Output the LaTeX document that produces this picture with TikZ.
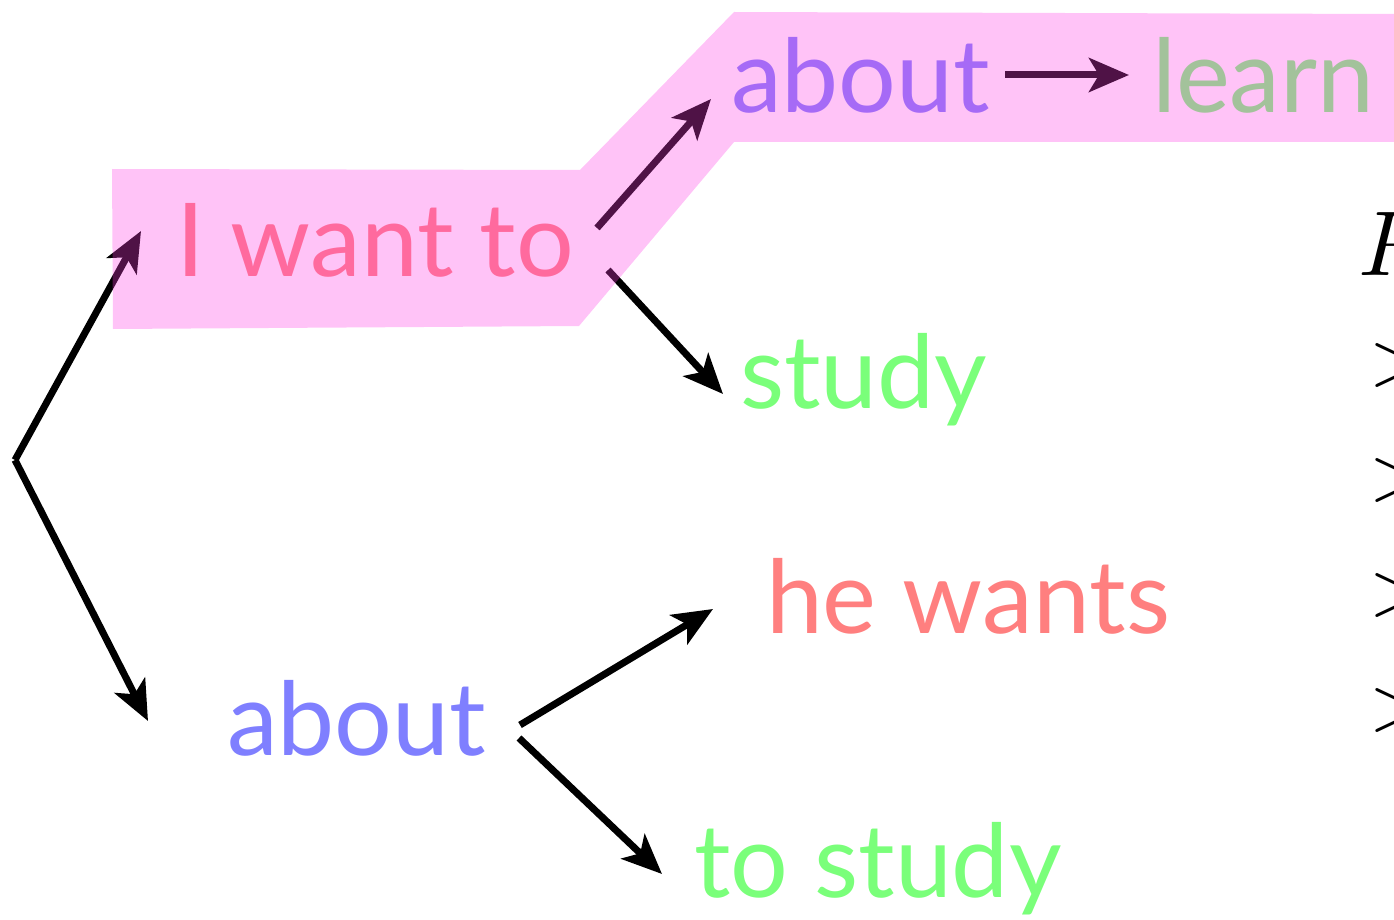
\documentclass[tikz,border=0pt]{standalone}
\usepackage{graphicx}
\usepackage{fontspec}
\setmainfont{Lato}
\usetikzlibrary{arrows.meta}
\definecolor{txtred}{RGB}{255,127,127}
\definecolor{txtblue}{RGB}{127,127,255}
\definecolor{txtgreen}{RGB}{122,255,122}
\definecolor{hilite}{RGB}{255,61,229}
\tikzset{
  word/.style={anchor=base west,inner sep=0pt,outer sep=0pt,font=\fontsize{102}{110}\selectfont},
  conn/.style={line width=7pt,-{Stealth[length=40pt,width=34pt,inset=10pt]}},
  mathsym/.style={inner sep=0pt,outer sep=0pt}
}
\begin{document}
\begin{tikzpicture}[x=1pt,y=-1pt]
\useasboundingbox (0,0) rectangle (1394,920);
% words
\node[word,text=txtred]   (iwant)  at (176,276) {I want to};
\node[word,text=txtblue]  (abtop)  at (731,113) {about};
\node[word,text=txtgreen] (learn)  at (1152,113) {learn};
\node[word,text=txtgreen] (study)  at (740,408) {study};
\node[word,text=txtred]   (hewants) at (766,633) {he wants};
\node[word,text=txtblue]  (abbot)  at (227,755) {about};
\node[word,text=txtgreen] (tostudy) at (694,897) {to study};
% math on right edge (cut off, as in the reference)
\node[mathsym,anchor=base west] (pm) at (1358,275) {\scalebox{9.2}{$P$}};
\node[mathsym,anchor=west] (g1) at (1369,365) {\scalebox{7.6}{$>$}};
\node[mathsym,anchor=west] (g2) at (1369,480) {\scalebox{7.6}{$>$}};
\node[mathsym,anchor=west] (g3) at (1369,595) {\scalebox{7.6}{$>$}};
\node[mathsym,anchor=west] (g4) at (1369,710) {\scalebox{7.6}{$>$}};
% connector ends
\coordinate (root) at (15,460);
\coordinate (iwin) at (141,231);
\coordinate (abbin) at (148,721);
\coordinate (iwout1) at (597,228);
\coordinate (abtin) at (711,99);
\coordinate (iwout2) at (608,270);
\coordinate (stin) at (723,394);
\coordinate (abtout) at (1005,75);
\coordinate (lein) at (1129,75);
\coordinate (abbout1) at (520,725);
\coordinate (hwin) at (713,609);
\coordinate (abbout2) at (519,738);
\coordinate (tsin) at (662,874);
% connectors
\draw[conn,line join=miter] (root) -- (iwin);
\draw[conn] (root) -- (abbin);
\draw[conn] (iwout1) -- (abtin);
\draw[conn] (iwout2) -- (stin);
\draw[conn] (abtout) -- (lein);
\draw[conn] (abbout1) -- (hwin);
\draw[conn] (abbout2) -- (tsin);
% translucent highlight over the chosen path
\fill[hilite,opacity=0.31] (112,169) -- (580,170) -- (734,12) -- (1394,14) -- (1394,142) -- (734,142) -- (579,326) -- (113,329) -- cycle;
\end{tikzpicture}
\end{document}
